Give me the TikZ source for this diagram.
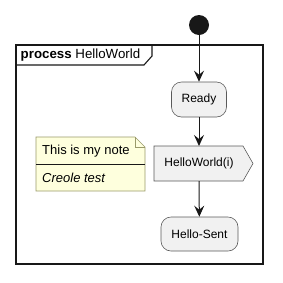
\documentclass[tikz,border=0pt]{standalone}
\usepackage{fontspec}
\setmainfont{Liberation Sans}
\usetikzlibrary{arrows.meta,shapes.symbols}
\definecolor{actfill}{HTML}{F1F1F1}
\definecolor{actline}{HTML}{5A5A5A}
\definecolor{notefill}{HTML}{FEFFDD}
\definecolor{noteline}{HTML}{9A9A6A}
\definecolor{dark}{HTML}{181818}
\tikzset{
  act/.style={draw=actline, fill=actfill, line width=0.6pt, rounded corners=10pt, font=\fontsize{12}{14}\selectfont, inner sep=0pt},
  flow/.style={draw=dark, line width=1pt, -{Stealth[length=11pt,width=10pt,inset=4pt]}},
}
\begin{document}
\begin{tikzpicture}[x=1pt,y=-1pt]
\useasboundingbox (0,0) rectangle (283,282);
% frame
\draw[dark, line width=1.3pt] (16,45) rectangle (263,264);
\draw[dark, line width=1.1pt] (16,65) -- (144,65) -- (152,56) -- (152,45);
\node[anchor=west, inner sep=0pt, font=\fontsize{13.3}{15}\selectfont] (title) at (20.5,55.5) {\textbf{process} HelloWorld};
% start
\node[circle, fill=dark, minimum size=20pt, inner sep=0pt] (start) at (199,25) {};
% activities
\node[act, minimum width=55pt, minimum height=35pt] (ready) at (199,99.5) {Ready};
\path[draw=actline, fill=actfill, line width=0.6pt] (154,146) -- (243,146) -- (253,163.5) -- (243,181) -- (154,181) -- cycle;
\node[inner sep=0pt, font=\fontsize{12}{14}\selectfont] (hw) at (199,163.5) {HelloWorld(i)};
\coordinate (hwtop) at (199,146);
\coordinate (hwbot) at (199,181);
\node[act, minimum width=77pt, minimum height=34pt] (sent) at (199.5,234) {Hello-Sent};
% note
\path[draw=noteline, fill=notefill, line width=0.6pt] (36,137) -- (135,137) -- (145,147) -- (145,191) -- (36,191) -- cycle;
\draw[noteline, line width=0.6pt] (135,137) -- (135,147) -- (145,147);
\draw[dark, line width=0.8pt] (36,164) -- (145,164);
\node[anchor=west, inner sep=0pt, font=\fontsize{13}{15}\selectfont] (n1) at (42,151) {This is my note};
\node[anchor=west, inner sep=0pt, font=\fontsize{13}{15}\selectfont\itshape] (n2) at (42,178) {Creole test};
% flows
\draw[flow] (start) -- (ready);
\draw[flow] (ready) -- (hwtop);
\draw[flow] (hwbot) -- (sent);
\end{tikzpicture}
\end{document}
